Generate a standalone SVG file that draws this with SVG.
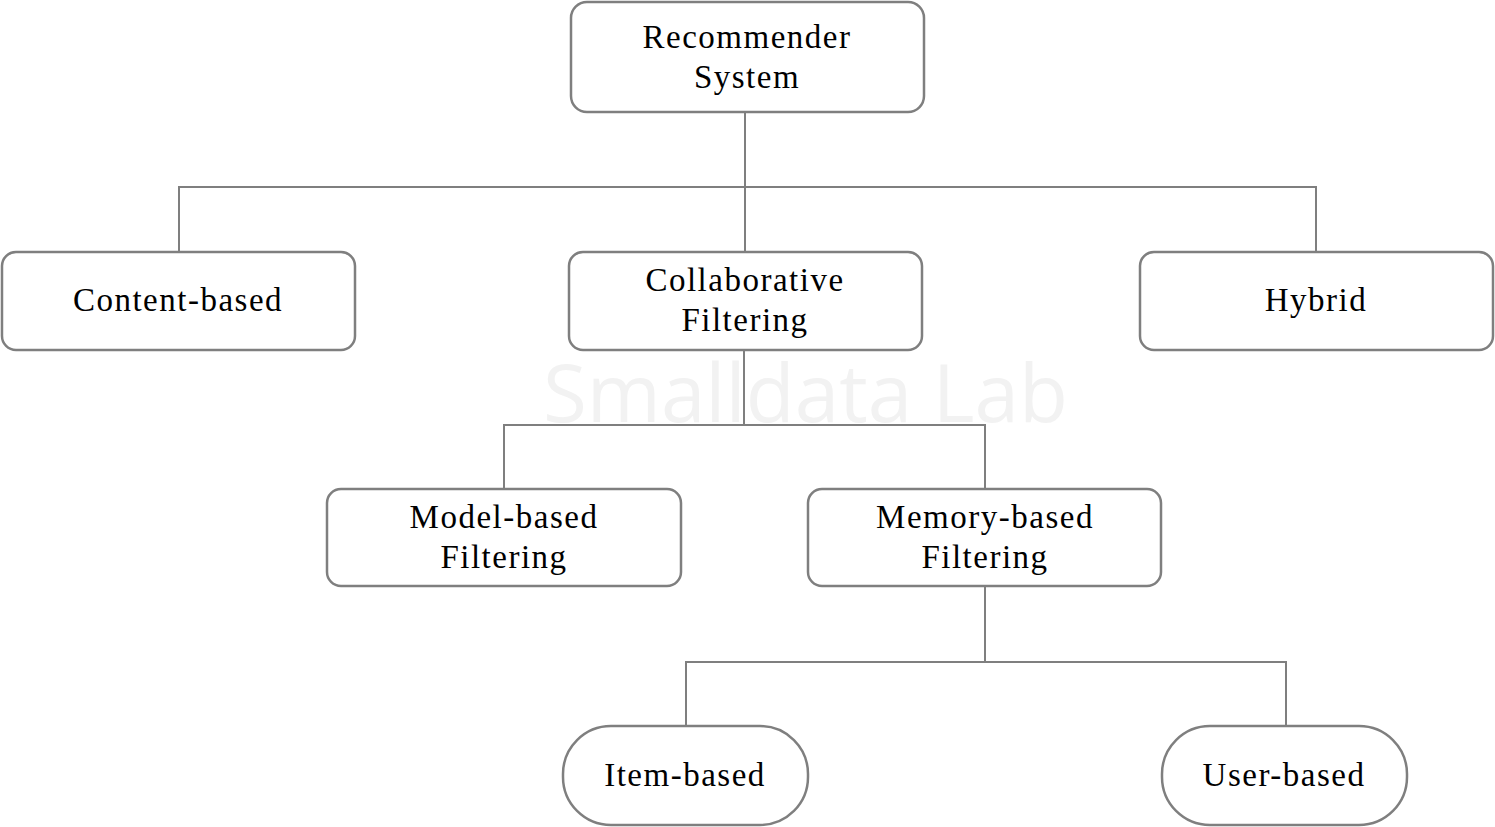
<svg xmlns="http://www.w3.org/2000/svg" width="1495" height="827" viewBox="0 0 1495 827">
<style>
.box{fill:#fff;stroke:#7f7f7f;stroke-width:2.5}
.lbl{font-family:"Liberation Serif","Times New Roman",serif;font-size:33px;fill:#000;text-anchor:middle;letter-spacing:1.5px}
.wm{font-family:"Open Sans","DejaVu Sans",sans-serif;font-size:80px;fill:#f2f2f2}
.conn{fill:none;stroke:#7f7f7f;stroke-width:2}
</style>
<rect width="1495" height="827" fill="#fff"/>
<text class="wm" x="543" y="422" textLength="525" lengthAdjust="spacingAndGlyphs">Smalldata Lab</text>
<g id="connectors">
<path class="conn" d="M745 112V187M179 251V187H1316V251M745 187V251"/>
<path class="conn" d="M744 350V425M504 488V425H985V488"/>
<path class="conn" d="M985 586V662M686 725V662H1286V725"/>
</g>
<g id="root"><rect class="box" x="571" y="2" width="353" height="110" rx="16"/><text class="lbl" x="747" y="48">Recommender</text><text class="lbl" x="747" y="88">System</text></g>
<g id="content"><rect class="box" x="2" y="252" width="353" height="98" rx="14"/><text class="lbl" x="178" y="311">Content-based</text></g>
<g id="collab"><rect class="box" x="569" y="252" width="353" height="98" rx="14"/><text class="lbl" x="745" y="291">Collaborative</text><text class="lbl" x="745" y="331">Filtering</text></g>
<g id="hybrid"><rect class="box" x="1140" y="252" width="353" height="98" rx="14"/><text class="lbl" x="1316" y="311">Hybrid</text></g>
<g id="model"><rect class="box" x="327" y="489" width="354" height="97" rx="14"/><text class="lbl" x="504" y="528">Model-based</text><text class="lbl" x="504" y="568">Filtering</text></g>
<g id="memory"><rect class="box" x="808" y="489" width="353" height="97" rx="14"/><text class="lbl" x="985" y="528">Memory-based</text><text class="lbl" x="985" y="568">Filtering</text></g>
<g id="item"><rect class="box" x="563" y="726" width="245" height="99" rx="48"/><text class="lbl" x="685" y="786">Item-based</text></g>
<g id="user"><rect class="box" x="1162" y="726" width="245" height="99" rx="48"/><text class="lbl" x="1284" y="786">User-based</text></g>
</svg>
